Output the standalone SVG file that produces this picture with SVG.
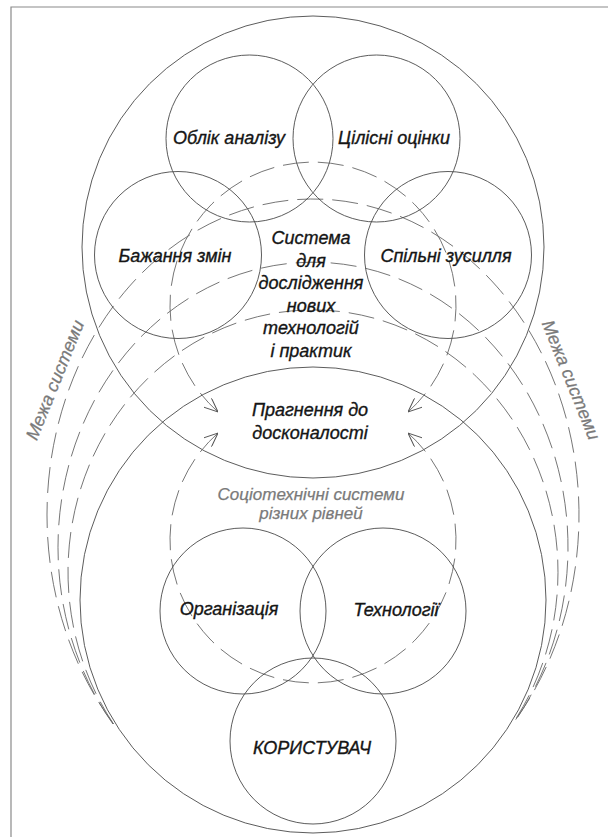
<svg xmlns="http://www.w3.org/2000/svg" width="608" height="837" viewBox="0 0 608 837">
<style>
.c{fill:none;stroke:#4a4a4a;stroke-width:0.9}
.d{fill:none;stroke:#666;stroke-width:0.9;stroke-dasharray:26 9}
.t{font-family:"Liberation Sans",Arial,sans-serif;font-style:italic;font-size:18px;fill:#151515;stroke:#151515;stroke-width:0.35;text-anchor:middle}
.g{font-family:"Liberation Sans",Arial,sans-serif;font-style:italic;font-size:17px;fill:#7a7a7a;stroke:#7a7a7a;stroke-width:0.25;text-anchor:middle}
</style>
<defs>
<marker id="arr" viewBox="0 0 14 12" refX="14" refY="6" markerWidth="14" markerHeight="12" markerUnits="userSpaceOnUse" orient="auto-start-reverse">
<path d="M0,0 L14,6 L0,12" fill="none" stroke="#555" stroke-width="1"/>
</marker>
</defs>
<rect width="608" height="837" fill="#fff"/>
<path d="M11 837 V7 H608" fill="none" stroke="#8a8a8a" stroke-width="1.2"/>

<g id="boundary-top">
<circle class="c" cx="313" cy="247" r="231"/>
</g>
<g id="boundary-bottom">
<circle class="c" cx="313" cy="600" r="233"/>
</g>

<g id="connectors">
<path class="d" d="M113.5 724 A266 316 0 1 1 512.5 724"/>
<path class="d" d="M113 724 A255 285 0 1 1 513 724"/>
<path class="d" d="M113.5 724 A245 262 0 1 1 512.5 724"/>
<path class="d" d="M218 412 A143 143 0 1 1 408 412" marker-start="url(#arr)" marker-end="url(#arr)"/>
<path class="d" d="M218 433 A143 143 0 1 0 408 433" marker-start="url(#arr)" marker-end="url(#arr)"/>
</g>

<g id="oblik">
<circle class="c" cx="249.5" cy="138.5" r="83.5"/>
<text class="t" x="229" y="144">Облік аналізу</text>
</g>
<g id="tsilisni">
<circle class="c" cx="376.5" cy="138.5" r="83.5"/>
<text class="t" x="394" y="144">Цілісні оцінки</text>
</g>
<g id="bazhannia">
<circle class="c" cx="178" cy="255" r="83.5"/>
<text class="t" x="175" y="262">Бажання змін</text>
</g>
<g id="spilni">
<circle class="c" cx="448" cy="255" r="83.5"/>
<text class="t" x="446" y="262">Спільні зусилля</text>
</g>
<g id="systema">
<text class="t" x="311" y="244">Система</text>
<text class="t" x="311" y="267">для</text>
<text class="t" x="311" y="289">дослідження</text>
<text class="t" x="311" y="312">нових</text>
<text class="t" x="311" y="334">технологій</text>
<text class="t" x="311" y="357">і практик</text>
</g>
<g id="pragnennia">
<text class="t" x="310" y="416">Прагнення до</text>
<text class="t" x="310" y="439">досконалості</text>
</g>
<g id="sotsiotekhnichni">
<text class="g" x="311" y="500">Соціотехнічні системи</text>
<text class="g" x="311" y="519">різних рівней</text>
</g>
<g id="organizatsiia">
<circle class="c" cx="243" cy="611" r="83"/>
<text class="t" x="229" y="615">Організація</text>
</g>
<g id="tekhnologii">
<circle class="c" cx="383" cy="611" r="83"/>
<text class="t" x="396" y="616">Технології</text>
</g>
<g id="korystuvach">
<circle class="c" cx="313" cy="741" r="83"/>
<text class="t" x="312" y="754">КОРИСТУВАЧ</text>
</g>
<g id="mezha-left">
<text class="g" x="0" y="0" transform="translate(55 380) rotate(-68)" dy="6" style="font-size:18px">Межа системи</text>
</g>
<g id="mezha-right">
<text class="g" x="0" y="0" transform="translate(571 380) rotate(68)" dy="6" style="font-size:18px">Межа системи</text>
</g>
</svg>
